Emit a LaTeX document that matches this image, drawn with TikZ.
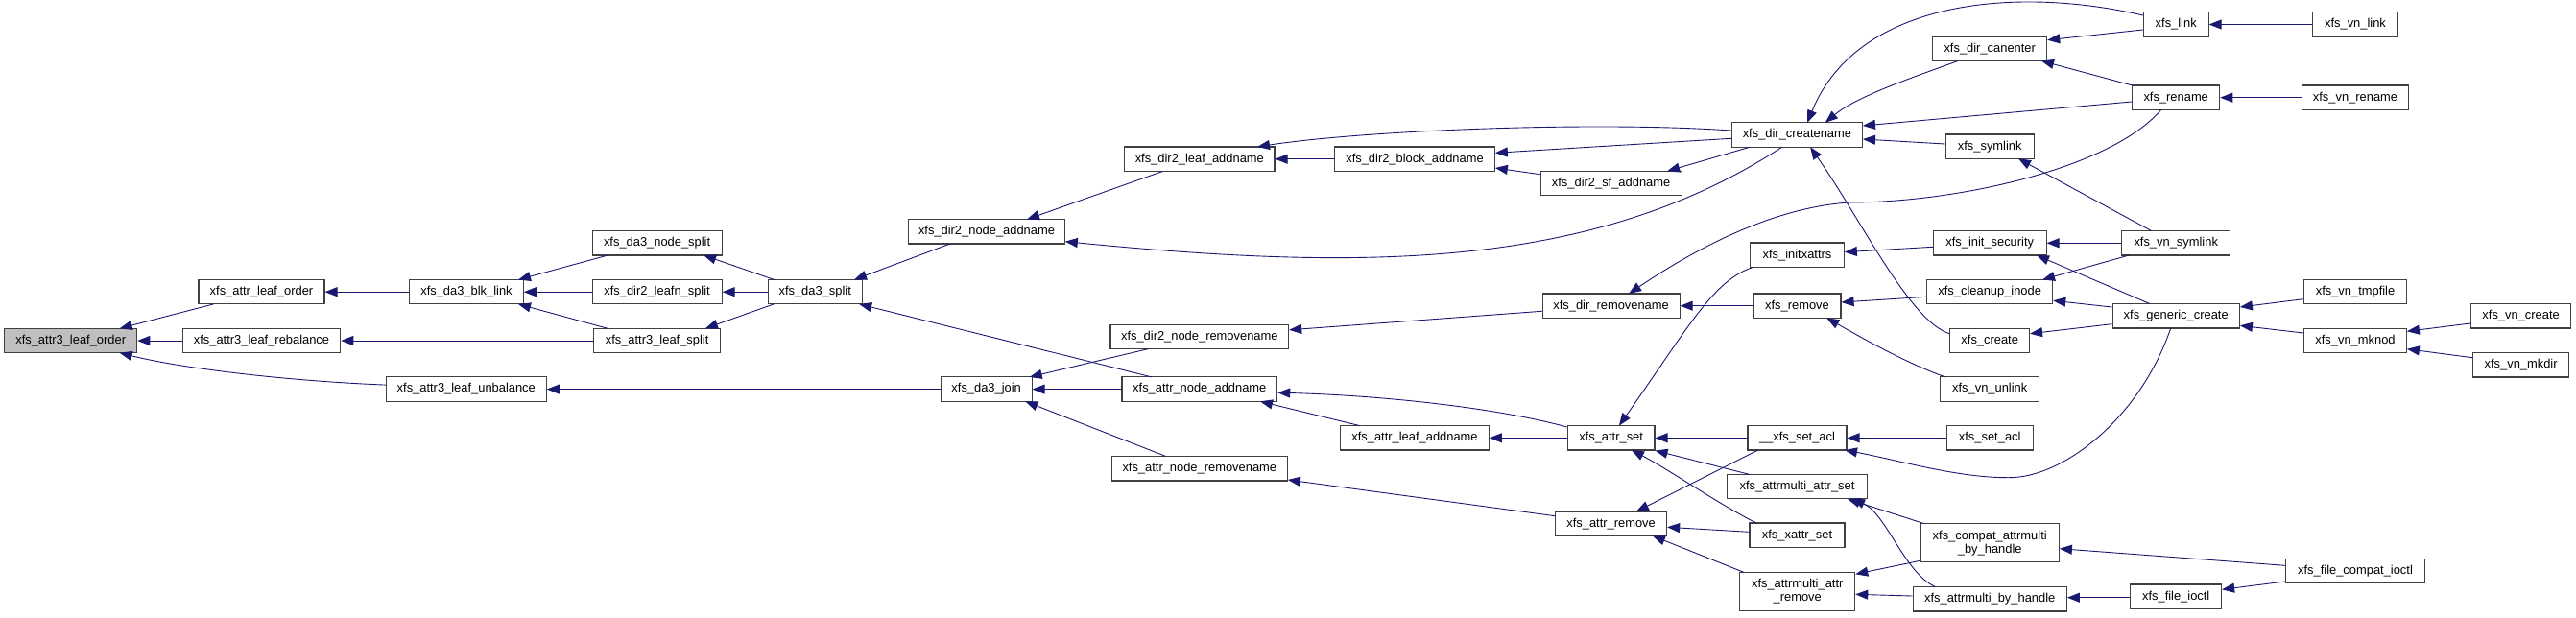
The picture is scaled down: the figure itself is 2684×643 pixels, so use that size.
\documentclass[tikz,border=0pt]{standalone}
\usepackage{fontspec}
\setmainfont{Liberation Sans}
\usetikzlibrary{arrows.meta,calc}
\definecolor{edgeblue}{HTML}{191970}
\definecolor{rootgrey}{HTML}{BFBFBF}
\definecolor{boxline}{HTML}{404040}
\begin{document}
\begin{tikzpicture}[x=1pt,y=-1pt,
  fn/.style={draw=boxline, line width=1.1pt, fill=white, inner sep=0pt, minimum height=25.4pt,
    align=center, font=\fontsize{12.9}{14}\selectfont},
  rootfn/.style={fn, fill=rootgrey},
  tall/.style={minimum height=40pt},
  e/.style={draw=edgeblue, line width=0.9pt, -{Triangle[length=13pt,width=10pt]}}]
\useasboundingbox (0,0) rectangle (2684,643);
% nodes
\node[rootfn, minimum width=138pt] (ALO3) at (73.7,355) {xfs\_attr3\_leaf\_order};
\node[fn, minimum width=164.4pt] (REB) at (272.5,355) {xfs\_attr3\_leaf\_rebalance};
\node[fn, minimum width=131pt] (ALO) at (272.5,304.2) {xfs\_attr\_leaf\_order};
\node[fn, minimum width=167pt] (UNB) at (485.8,405.6) {xfs\_attr3\_leaf\_unbalance};
\node[fn, minimum width=118.6pt] (BLK) at (486,304.2) {xfs\_da3\_blk\_link};
\node[fn, minimum width=135pt] (NSP) at (684.6,253.3) {xfs\_da3\_node\_split};
\node[fn, minimum width=135pt] (LSP) at (684.6,304.2) {xfs\_dir2\_leafn\_split};
\node[fn, minimum width=132pt] (ASP) at (684.6,355) {xfs\_attr3\_leaf\_split};
\node[fn, minimum width=98.3pt] (DSP) at (849.2,304.2) {xfs\_da3\_split};
\node[fn, minimum width=162.6pt] (NAD) at (1028,241.3) {xfs\_dir2\_node\_addname};
\node[fn, minimum width=94.7pt] (JOIN) at (1027.7,405.6) {xfs\_da3\_join};
\node[fn, minimum width=156.3pt] (LAD) at (1249.8,165.7) {xfs\_dir2\_leaf\_addname};
\node[fn, minimum width=185.7pt] (NRM) at (1249.8,350.8) {xfs\_dir2\_node\_removename};
\node[fn, minimum width=161.7pt] (ANA) at (1249.8,405.6) {xfs\_attr\_node\_addname};
\node[fn, minimum width=183pt] (ANR) at (1249.8,488.3) {xfs\_attr\_node\_removename};
\node[fn, minimum width=166.6pt] (BAD) at (1474,165.7) {xfs\_dir2\_block\_addname};
\node[fn, minimum width=154.6pt] (ALA) at (1474,456.3) {xfs\_attr\_leaf\_addname};
\node[fn, minimum width=147pt] (SAD) at (1678.6,191) {xfs\_dir2\_sf\_addname};
\node[fn, minimum width=143pt] (DRM) at (1678.6,318.7) {xfs\_dir\_removename};
\node[fn, minimum width=90.7pt] (ASET) at (1678.6,456.3) {xfs\_attr\_set};
\node[fn, minimum width=116pt] (AREM) at (1678.6,545.7) {xfs\_attr\_remove};
\node[fn, minimum width=136pt] (DCN) at (1872.4,140.5) {xfs\_dir\_createname};
\node[fn, minimum width=97.6pt] (IXA) at (1872.5,265.7) {xfs\_initxattrs};
\node[fn, minimum width=91pt] (REM) at (1872.5,318.7) {xfs\_remove};
\node[fn, minimum width=103pt] (SACL2) at (1872.5,456.3) {\_\_xfs\_set\_acl};
\node[fn, minimum width=145.6pt] (MAS) at (1872.5,507.2) {xfs\_attrmulti\_attr\_set};
\node[fn, minimum width=99pt] (XAS) at (1872.5,557.7) {xfs\_xattr\_set};
\node[fn, tall, minimum width=120pt] (MAR) at (1872.7,616.3) {xfs\_attrmulti\_attr\\\_remove};
\node[fn, minimum width=119pt] (CAN) at (2073.2,50.8) {xfs\_dir\_canenter};
\node[fn, minimum width=92.3pt] (SYM) at (2073.2,152.7) {xfs\_symlink};
\node[fn, minimum width=117.7pt] (ISEC) at (2073.2,253.3) {xfs\_init\_security};
\node[fn, minimum width=131pt] (CLN) at (2073.2,304.2) {xfs\_cleanup\_inode};
\node[fn, minimum width=82.6pt] (CRE) at (2073.2,355) {xfs\_create};
\node[fn, minimum width=103pt] (UNL) at (2073.2,405.5) {xfs\_vn\_unlink};
\node[fn, minimum width=89.7pt] (SACL) at (2073.2,456.3) {xfs\_set\_acl};
\node[fn, tall, minimum width=144.3pt] (CAB) at (2073.2,565.7) {xfs\_compat\_attrmulti\\\_by\_handle};
\node[fn, minimum width=160.3pt] (MBH) at (2073.2,624.3) {xfs\_attrmulti\_by\_handle};
\node[fn, minimum width=67.7pt] (LINK) at (2267.2,25.5) {xfs\_link};
\node[fn, minimum width=91pt] (REN) at (2267.2,101.7) {xfs\_rename};
\node[fn, minimum width=113.3pt] (VSYM) at (2267.2,253.3) {xfs\_vn\_symlink};
\node[fn, minimum width=132.3pt] (GEN) at (2267.2,329.3) {xfs\_generic\_create};
\node[fn, minimum width=94.7pt] (FIO) at (2267.2,621.7) {xfs\_file\_ioctl};
\node[fn, minimum width=88.6pt] (VLINK) at (2454,25.5) {xfs\_vn\_link};
\node[fn, minimum width=110.6pt] (VREN) at (2454,101.7) {xfs\_vn\_rename};
\node[fn, minimum width=107pt] (VTMP) at (2454,304.2) {xfs\_vn\_tmpfile};
\node[fn, minimum width=106.7pt] (VMK) at (2454,355) {xfs\_vn\_mknod};
\node[fn, minimum width=145.3pt] (FCI) at (2454,595) {xfs\_file\_compat\_ioctl};
\node[fn, minimum width=104.4pt] (VCRE) at (2626.6,329.3) {xfs\_vn\_create};
\node[fn, minimum width=100pt] (VMD) at (2626.6,380.3) {xfs\_vn\_mkdir};
% edges
\draw[e] ($(ALO)+(-50,12.7)$) -- ($(ALO3)+(51,-12.7)$);
\draw[e] (REB.west) -- (ALO3.east);
\draw[e] ($(UNB.west)+(0,-4.5)$) .. controls (300,397) and (190,384) .. ($(ALO3)+(51,12.7)$);
\draw[e] (BLK.west) -- (ALO.east);
\draw[e] (ASP.west) -- (REB.east);
\draw[e] (JOIN.west) -- (UNB.east);
\draw[e] ($(NSP)+(-51.2,12.7)$) -- ($(BLK)+(54,-12.7)$);
\draw[e] (LSP.west) -- (BLK.east);
\draw[e] ($(ASP)+(-51.4,-12.7)$) -- ($(BLK)+(54,12.7)$);
\draw[e] ($(DSP)+(-42.5,-12.7)$) -- ($(NSP)+(48.5,12.7)$);
\draw[e] (DSP.west) -- (LSP.east);
\draw[e] ($(DSP)+(-43,12.7)$) -- ($(ASP)+(50.3,-12.7)$);
\draw[e] ($(NAD)+(-38,12.7)$) -- ($(DSP)+(40.8,-12.7)$);
\draw[e] ($(ANA)+(-49.8,-12.7)$) -- ($(DSP)+(46,12.7)$);
\draw[e] ($(LAD)+(-38,12.7)$) -- ($(NAD)+(42,-12.7)$);
\draw[e] ($(DCN)+(-15.6,12.7)$) .. controls (1657,284) and (1409,281) .. ($(NAD.east)+(0,10.4)$);
\draw[e] (BAD.west) -- (LAD.east);
\draw[e] ($(DCN.west)+(0,-4.5)$) .. controls (1660,126) and (1420,136) .. ($(LAD)+(60.2,-12.7)$);
\draw[e] ($(DCN.west)+(0,3.8)$) -- ($(BAD.east)+(0,-6.4)$);
\draw[e] ($(DCN)+(-49,12.7)$) -- ($(SAD)+(58.5,-12.7)$);
\draw[e] ($(SAD.west)+(0,-9.3)$) -- ($(BAD.east)+(0,9.3)$);
\draw[e] ($(NRM)+(-53,12.7)$) -- ($(JOIN)+(45,-12.7)$);
\draw[e] (ANA.west) -- (JOIN.east);
\draw[e] ($(ANR)+(-34.8,-12.7)$) -- ($(JOIN)+(40.6,12.7)$);
\draw[e] ($(DRM.west)+(0,5.6)$) -- ($(NRM.east)+(0,-7)$);
\draw[e] ($(ASET.west)+(0,-11.3)$) .. controls (1560,425) and (1440,412) .. ($(ANA.east)+(0,3.6)$);
\draw[e] ($(ALA)+(-57.3,-12.7)$) -- ($(ANA)+(63.2,12.7)$);
\draw[e] (ASET.west) -- (ALA.east);
\draw[e] ($(AREM.west)+(0,-8)$) -- ($(ANR.east)+(0,11.7)$);
\draw[e] (REM.west) -- (DRM.east);
\draw[e] ($(REN)+(-15.5,12.7)$) .. controls (2200,175) and (2040,211) .. (1927,211)
  .. controls (1880,214) and (1807,232) .. ($(DRM)+(18.5,-12.7)$);
\draw[e] ($(IXA)+(-45.8,12.7)$) .. controls (1785,292) and (1760,340) .. ($(ASET)+(8.3,-12.7)$);
\draw[e] ($(ISEC.west)+(0,4)$) -- ($(IXA.east)+(0,-3)$);
\draw[e] ($(CLN.west)+(0,5.1)$) -- ($(REM.east)+(0,-3.7)$);
\draw[e] ($(CRE.west)+(0,-7.3)$) .. controls (1990,335) and (1940,230) .. ($(DCN)+(13.7,12.7)$);
\draw[e] ($(UNL)+(-46.5,-12.7)$) .. controls (1985,378) and (1940,352) .. ($(REM)+(30.8,12.7)$);
\draw[e] ($(SYM.west)+(0,-2.7)$) -- ($(DCN.east)+(0,4.5)$);
\draw[e] ($(REN.west)+(0,4.3)$) -- ($(DCN.east)+(0,-9.5)$);
\draw[e] ($(CAN)+(-33.2,12.7)$) .. controls (1995,80) and (1935,100) .. ($(DCN)+(29.4,-12.7)$);
\draw[e] ($(LINK.west)+(0,-9.5)$) .. controls (2100,-15) and (1935,0) .. ($(DCN)+(10.7,-12.7)$);
\draw[e] ($(LINK.west)+(0,5.5)$) -- ($(CAN.east)+(0,-9.1)$);
\draw[e] ($(REN)+(-45.5,-12.7)$) -- ($(CAN)+(53.8,12.7)$);
\draw[e] (VLINK.west) -- (LINK.east);
\draw[e] (VREN.west) -- (REN.east);
\draw[e] ($(VSYM)+(-25.6,-12.7)$) -- ($(SYM)+(29.8,12.7)$);
\draw[e] (VSYM.west) -- (ISEC.east);
\draw[e] ($(GEN)+(-27.2,-12.7)$) -- ($(ISEC)+(48.8,12.7)$);
\draw[e] ($(VSYM)+(-49,12.7)$) -- ($(CLN)+(54.8,-12.7)$);
\draw[e] ($(GEN.west)+(0,-9.3)$) -- ($(CLN.east)+(0,9.1)$);
\draw[e] ($(GEN.west)+(0,8.4)$) -- ($(CRE.east)+(0,-7.3)$);
\draw[e] ($(VTMP.west)+(0,7.5)$) -- ($(GEN.east)+(0,-9.3)$);
\draw[e] ($(VMK.west)+(0,-8)$) -- ($(GEN.east)+(0,10)$);
\draw[e] ($(VCRE.west)+(0,7.7)$) -- ($(VMK.east)+(0,-9.7)$);
\draw[e] ($(VMD.west)+(0,-7.6)$) -- ($(VMK.east)+(0,8.7)$);
\draw[e] ($(GEN)+(-5.5,12.7)$) .. controls (2230,435) and (2150,498) .. (2093,497.7)
  .. controls (2040,498) and (1980,480) .. ($(SACL2)+(49.5,12.7)$);
\draw[e] (SACL.west) -- (SACL2.east);
\draw[e] (SACL2.west) -- (ASET.east);
\draw[e] ($(MAS)+(-49.2,-12.7)$) -- (ASET.south east);
\draw[e] ($(XAS)+(-42.5,-12.7)$) .. controls (1790,525) and (1740,490) .. ($(ASET)+(21.3,12.7)$);
\draw[e] ($(SACL2)+(-40.8,12.7)$) -- ($(AREM)+(26.3,-12.7)$);
\draw[e] ($(XAS.west)+(0,-3.4)$) -- ($(AREM.east)+(0,3.6)$);
\draw[e] ($(MAR)+(-56,-20)$) -- ($(AREM)+(43.3,12.7)$);
\draw[e] ($(CAB)+(-68.2,-20)$) -- ($(MAS)+(52.5,12.7)$);
\draw[e] ($(MBH)+(-56.5,-12.7)$) .. controls (1985,598) and (1965,535) .. ($(MAS)+(57.5,12.7)$);
\draw[e] ($(CAB.west)+(0,18.6)$) -- ($(MAR.east)+(0,-18)$);
\draw[e] ($(MBH.west)+(0,-3.3)$) -- ($(MAR.east)+(0,3)$);
\draw[e] ($(FCI.west)+(0,-5.7)$) -- ($(CAB.east)+(0,6)$);
\draw[e] ($(FIO.west)+(0,1)$) -- ($(MBH.east)+(0,-1.6)$);
\draw[e] ($(FCI.west)+(0,11)$) -- ($(FIO.east)+(0,-7.4)$);
\end{tikzpicture}
\end{document}
